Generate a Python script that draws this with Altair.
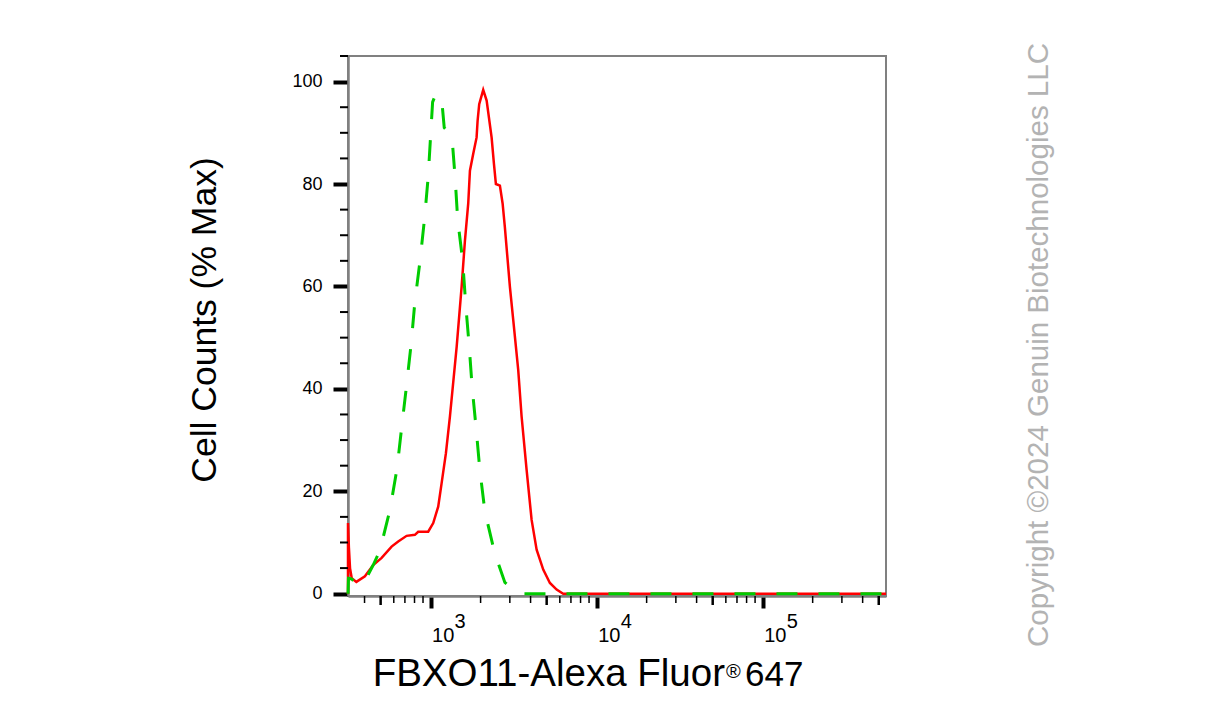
import altair as alt
import pandas as pd

# ---- data ----
red_x = [318, 318, 322, 327, 335, 357, 402, 451, 507, 582, 638, 717, 804, 842, 967, 1037,
         1111, 1165, 1236, 1307, 1435, 1537, 1610, 1685, 1725, 1806, 1892, 1919, 1962, 2074,
         2175, 2330, 2406, 2473, 2614, 2714, 2800, 3003, 3146, 3370, 3532, 3786, 4058, 4350,
         4767, 5230, 5740, 6290, 553000]
red_y = [0, 13.8, 9.0, 5.0, 3.0, 2.3, 3.4, 5.6, 7.0, 9.2, 10.2, 11.3, 11.5, 12.1, 12.1, 13.8,
         17.0, 21.6, 27.4, 34.6, 48.2, 59.9, 69.0, 76.2, 82.6, 85.9, 89.1, 92.4, 95.6, 98.4,
         96.3, 89.1, 84.0, 80.0, 79.7, 76.2, 71.6, 59.9, 53.4, 43.7, 34.6, 24.2, 14.4, 8.6,
         4.7, 2.1, 0.8, 0, 0]

green_x = [318, 320, 334, 366, 411, 451, 495, 569, 628, 669, 717, 764, 804, 865, 920, 967,
           1001, 1028, 1076, 1138, 1175, 1208, 1276, 1357, 1405, 1456, 1560, 1626, 1706,
           1778, 1880, 1980, 2124, 2430, 2800, 3146, 3532, 553000]
green_y = [0, 3.0, 2.9, 1.7, 3.1, 5.6, 8.4, 16.4, 24.5, 32.4, 40.8, 48.9, 57.0, 65.2, 73.4,
           81.4, 89.7, 96.0, 97.6, 96.6, 95.3, 91.0, 90.1, 87.5, 81.2, 73.0, 65.0, 56.6, 48.5,
           40.4, 32.3, 24.1, 16.0, 8.0, 2.2, 0.8, 0, 0]

y_major = [0, 20, 40, 60, 80, 100]
y_minor = [5, 10, 15, 25, 30, 35, 45, 50, 55, 65, 70, 75, 85, 90, 95, 105]
x_major = [1000, 10000, 100000]
x_major_base = ["10", "10", "10"]
x_major_exp = ["3", "4", "5"]
x_minor = [400, 600, 700, 800, 900, 2000, 3000, 4000, 6000, 7000, 8000, 9000,
           20000, 30000, 40000, 60000, 70000, 80000, 90000, 200000, 300000, 400000]
x_mid = [500, 5000, 50000, 500000]

x_title_main = ["FBXO11-Alexa Fluor"]
x_title_mark = ["®"]
x_title_tail = ["647"]
y_title = ["Cell Counts (% Max)"]
copyright_text = ["Copyright ©2024 Genuin Biotechnologies LLC"]

FONT = "Liberation Sans"
W, H = 538, 540

xs = alt.Scale(type="log", domain=[318, 553000], nice=False)
ys = alt.Scale(domain=[-0.45, 105], nice=False, zero=False)

red_df = pd.DataFrame({"x": red_x, "y": red_y, "i": list(range(len(red_x)))})
green_df = pd.DataFrame({"x": green_x, "y": green_y, "i": list(range(len(green_x)))})

x_axis = alt.Axis(values=x_major, labels=False, tickSize=12, tickWidth=4, tickColor="black",
                  domainColor="#808080", domainWidth=2.5, grid=False, title="")
y_axis = alt.Axis(values=y_major, tickSize=15, tickWidth=4, tickColor="black",
                  labelFont=FONT, labelFontSize=18, labelColor="black", labelPadding=11,
                  domainColor="#808080", domainWidth=2.5, grid=False, title="", format="d")


def X(field):
    return alt.X(field, scale=xs, axis=x_axis)


def Y(field):
    return alt.Y(field, scale=ys, axis=y_axis)


red = alt.Chart(red_df).mark_line(color="#ff0000", strokeWidth=2.5).encode(
    x=X("x:Q"), y=Y("y:Q"), order="i:Q",
)
green = alt.Chart(green_df).mark_line(color="#00cc00", strokeWidth=3, strokeDash=[21, 21]).encode(
    x=X("x:Q"), y=Y("y:Q"), order="i:Q",
)

xminor = alt.Chart(pd.DataFrame({"v": x_minor})).mark_rule(color="black", strokeWidth=1.5).encode(
    x=X("v:Q"), y=alt.value(H), y2=alt.value(H + 7))
xmid = alt.Chart(pd.DataFrame({"v": x_mid})).mark_rule(color="black", strokeWidth=2.5).encode(
    x=X("v:Q"), y=alt.value(H), y2=alt.value(H + 9))
yminor = alt.Chart(pd.DataFrame({"v": y_minor})).mark_rule(color="black", strokeWidth=2).encode(
    y=Y("v:Q"), x=alt.value(-8), x2=alt.value(0))

lab_df = pd.DataFrame({"v": x_major, "b": x_major_base, "e": x_major_exp})
xlab_base = alt.Chart(lab_df).mark_text(align="left", baseline="alphabetic", font=FONT,
                                         fontSize=20, dx=1.5, color="black").encode(
    x=X("v:Q"), y=alt.value(586), text="b:N")
xlab_exp = alt.Chart(lab_df).mark_text(align="left", baseline="alphabetic", font=FONT,
                                        fontSize=20, dx=24, color="black").encode(
    x=X("v:Q"), y=alt.value(572), text="e:N")

ytitle = alt.Chart(pd.DataFrame({"t": y_title})).mark_text(
    angle=270, align="center", baseline="middle", font=FONT, fontSize=35.5, color="black").encode(
    x=alt.value(-143.5), y=alt.value(264), text="t:N")

xt1 = alt.Chart(pd.DataFrame({"t": x_title_main})).mark_text(
    align="right", baseline="alphabetic", font=FONT, fontSize=38.5, color="black").encode(
    x=alt.value(377), y=alt.value(630), text="t:N")
xt2 = alt.Chart(pd.DataFrame({"t": x_title_mark})).mark_text(
    align="left", baseline="alphabetic", font=FONT, fontSize=20, color="black").encode(
    x=alt.value(378), y=alt.value(622), text="t:N")
xt3 = alt.Chart(pd.DataFrame({"t": x_title_tail})).mark_text(
    align="left", baseline="alphabetic", font=FONT, fontSize=35, color="black").encode(
    x=alt.value(397), y=alt.value(630), text="t:N")

copy = alt.Chart(pd.DataFrame({"t": copyright_text})).mark_text(
    angle=270, align="center", baseline="middle", font=FONT, fontSize=29.5, color="#b3b3b3").encode(
    x=alt.value(690.5), y=alt.value(289), text="t:N")

chart = alt.layer(
    red, green, xminor, xmid, yminor, xlab_base, xlab_exp, ytitle, xt1, xt2, xt3, copy
).properties(
    width=W, height=H,
    autosize=alt.AutoSizeParams(type="none"),
    padding={"left": 340, "top": 48, "right": 300, "bottom": 110},
).configure_view(stroke="#808080", strokeWidth=2)

chart.save("out.html", embed_options={"renderer": "svg", "actions": False})
